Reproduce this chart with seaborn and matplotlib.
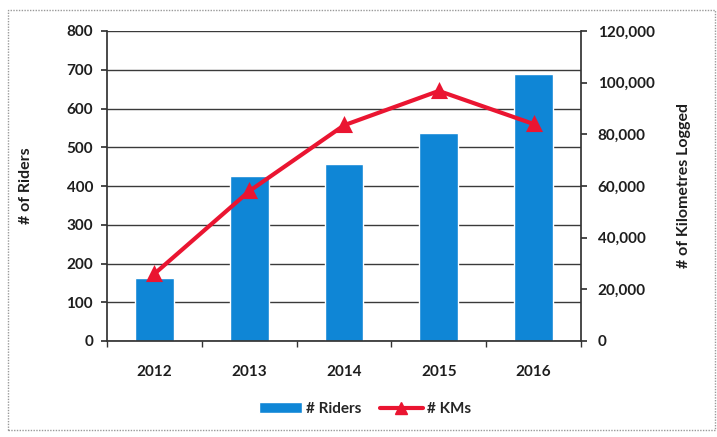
import matplotlib
matplotlib.use("Agg")
import matplotlib.pyplot as plt
import seaborn as sns
import pandas as pd
from matplotlib.ticker import FuncFormatter, MultipleLocator, FixedLocator
from matplotlib.patches import Patch, Rectangle
from matplotlib.lines import Line2D

years = ["2012", "2013", "2014", "2015", "2016"]
riders = [163, 426, 456, 538, 690]
kms = [26000, 58000, 83500, 96800, 84000]

df = pd.DataFrame({"year": years, "riders": riders, "kms": kms})

sns.set_theme(style="white")
plt.rcParams['font.family'] = ['Lato', 'DejaVu Sans']

bar_color = "#0F86D6"
line_color = "#EA1531"
txt = "#1E1E1E"

fig = plt.figure(figsize=(7.17, 4.37), dpi=100)
ax = fig.add_axes([107/717, 1-341/437, (581-107)/717, (341-31)/437])

sns.barplot(data=df, x="year", y="riders", ax=ax, color=bar_color, width=0.41,
            saturation=1, order=years)
ax.set_ylim(0, 800)
ax.yaxis.set_major_locator(MultipleLocator(100))
ax.grid(axis="y", color="#3A3A3A", linewidth=1.0)
ax.set_axisbelow(True)
ax.set_xlabel("")
ax.set_ylabel("# of Riders", fontsize=11.5, fontweight="bold", color=txt, labelpad=24)
for s in ["top", "right"]:
    ax.spines[s].set_visible(False)
ax.spines["left"].set_color("#333333")
ax.spines["bottom"].set_color("#333333")
ax.tick_params(axis="x", which="major", labelsize=11, colors=txt, length=0, pad=17)
ax.tick_params(axis="y", which="major", labelsize=11, colors=txt, length=4,
               direction="out", color="#333333", pad=6, left=True)
ax.xaxis.set_minor_locator(FixedLocator([-0.5, 0.5, 1.5, 2.5, 3.5, 4.5]))
ax.tick_params(axis="x", which="minor", length=4, color="#333333", direction="out", bottom=True)
for lab in ax.get_xticklabels() + ax.get_yticklabels():
    lab.set_fontweight("bold")

ax2 = ax.twinx()
sns.pointplot(data=df, x="year", y="kms", ax=ax2, color=line_color, markers="^",
              linewidth=3, markersize=9, order=years)
ax2.set_ylim(0, 120000)
ax2.yaxis.set_major_locator(MultipleLocator(20000))
ax2.yaxis.set_major_formatter(FuncFormatter(lambda v, p: f"{int(v):,}"))
ax2.set_xlabel("")
ax2.set_ylabel("# of Kilometres Logged", fontsize=11.5, fontweight="bold", color=txt, labelpad=16)
for s in ["top", "left", "bottom"]:
    ax2.spines[s].set_visible(False)
ax2.spines["right"].set_color("#333333")
ax2.tick_params(axis="y", labelsize=11, colors=txt, length=4, direction="out",
                color="#333333", pad=8)
for lab in ax2.get_yticklabels():
    lab.set_fontweight("bold")
ax.set_xlim(-0.5, 4.5)
ax2.set_xlim(-0.5, 4.5)

handles = [Patch(facecolor=bar_color, label="# Riders"),
           Line2D([0], [0], color=line_color, lw=3, marker="^", markersize=9, label="# KMs")]
fig.legend(handles=handles, loc="center", bbox_to_anchor=(365/717, 1-409/437), ncol=2,
           frameon=False, handlelength=2.8, handletextpad=0.3, columnspacing=1.2,
           prop={"weight": "bold", "size": 11})

fig.patches.append(Rectangle((8/717, 7/437), (715-8)/717, (427-7)/437,
                             transform=fig.transFigure,
                             fill=False, edgecolor="#999999", linewidth=1, linestyle=(0, (1, 1))))

fig.savefig("out.png", dpi=100)
